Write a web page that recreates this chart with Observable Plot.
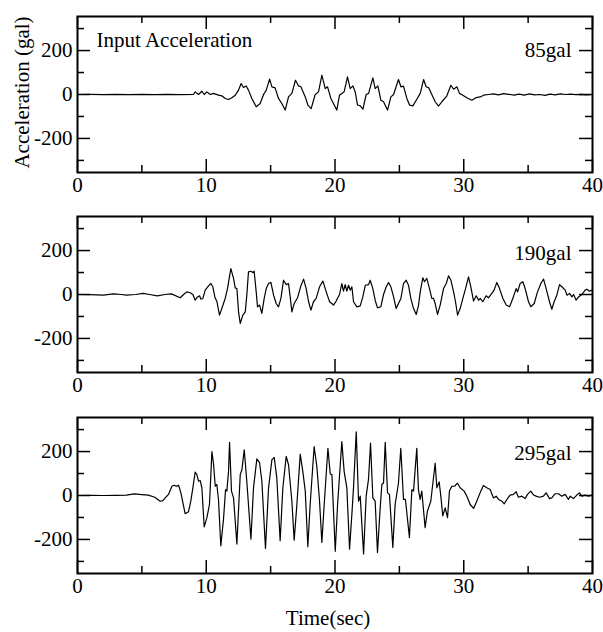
<!DOCTYPE html>
<html><head><meta charset="utf-8">
<script src="https://cdn.jsdelivr.net/npm/d3@7"></script>
<script src="https://cdn.jsdelivr.net/npm/@observablehq/plot@0.6"></script>
<style>
body{margin:0;background:#fff;}
#chart{position:relative;width:603px;height:632px;background:#fff;}
#chart svg{display:block;}
</style></head><body><div id="chart"></div>
<script>
const xMajor = [0, 10, 20, 30, 40];
const xMinor = [5, 15, 25, 35];
const yMajor = [-200, 0, 200];
const yMinor = [-300, -100, 100, 300];
const panelLabels = ["85gal", "190gal", "295gal"];
const titleText = "Input Acceleration";
const yAxisLabel = "Acceleration (gal)";
const xAxisLabel = "Time(sec)";

// [time (sec), acceleration (gal)]
const wave85 = [[0,0],[1,0.5],[2,-0.5],[3,1],[4,-1],[5,0.5],[6,-1],[7,1],[8,-0.5],[9,0],
[9.14,12],[9.4,0],[9.66,15],[9.84,0],[10.05,12],[10.31,0],[10.56,5],[10.95,-3],[11.21,-6],[11.47,-18],[11.73,-23],[11.99,-15],[12.25,-3],[12.51,20],[12.71,50],[12.89,32],[13.1,39],[13.28,20],[13.54,-18],[13.88,-56],[14.19,-41],[14.45,0],[14.66,20],[14.92,70],[15.1,35],[15.35,30],[15.61,-18],[15.87,-41],[16.13,-71],[16.39,-11],[16.65,5],[16.93,65],[17.17,39],[17.35,35],[17.69,-11],[17.89,-48],[18.15,-64],[18.46,0],[18.72,12],[18.98,88],[19.24,27],[19.42,35],[19.68,-18],[19.94,-48],[20.14,-71],[20.35,-3],
[20.53,5],[20.71,12],[20.97,80],[21.18,27],[21.39,39],[21.57,12],[21.75,-48],[21.96,-52],[22.17,-67],[22.42,0],[22.61,5],[22.94,76],[23.12,27],[23.33,39],[23.56,-26],[23.77,-33],[24.08,-71],[24.34,-11],[24.55,0],[24.93,68],[25.12,35],[25.32,38],[25.58,-18],[25.79,-48],[26.05,-52],[26.31,-26],[26.62,5],[26.88,68],[27.08,35],[27.29,30],[27.52,0],[27.78,-33],[28.04,-53],[28.3,-33],[28.69,-6],[29.0,42],[29.21,24],[29.47,35],[29.67,5],[29.93,-3],[30.24,-15],[30.63,-26],[30.97,-14],[31.28,-11],[31.54,-3],[31.92,0],
[32.3,3],[32.7,-2],[33.1,4],[33.5,1],[33.9,-3],[34.3,2],[34.7,-3],[35.1,3],[35.5,-2],[35.9,0],[36.3,-4],[36.7,2],[37.1,-2],[37.5,3],[37.9,0],[38.3,2],[38.7,-1],[39.1,1],[39.5,-2],[40,0]];

const wave190 = [[0,0],[1,-1],[2,-3],[2.8,3],[3.4,0],[3.8,-3],[4.5,0],[5.1,5],[5.6,0],[6.2,-6],[6.8,0],[7.3,3],[7.98,-15],
[8.24,0],[8.49,12],[8.75,8],[8.96,0],[9.14,-26],[9.32,-11],[9.48,-6],[9.58,-21],[9.74,-18],[9.92,20],[10.18,39],[10.36,50],[10.51,35],[10.67,-11],[10.83,-33],[11.03,-94],[11.21,-64],[11.47,-18],[11.65,27],[11.91,118],[12.12,73],[12.25,30],[12.38,27],[12.51,-79],[12.64,-132],[12.84,-94],[13.03,-79],[13.15,-3],[13.28,103],[13.47,106],[13.62,100],[13.72,106],[13.88,12],[13.98,-56],[14.14,-48],[14.32,-86],[14.5,-18],[14.66,27],[14.84,50],[15.02,55],[15.23,-3],[15.43,-41],[15.61,-56],[15.8,-18],[16.0,65],[16.21,45],[16.39,50],[16.52,-11],[16.65,-79],[16.83,-41],[17.09,-15],[17.35,39],[17.56,70],[17.76,27],[17.95,-33],[18.13,-71],[18.33,-33],[18.54,-18],[18.8,35],[19.06,61],[19.32,12],[19.58,-33],[19.89,-48],[20.09,-30],[20.35,0],[20.53,50],[20.66,15],[20.79,45],[20.92,15],[21.05,42],[21.18,20],[21.31,35],[21.44,-33],[21.7,-56],[21.96,-52],[22.16,-11],[22.35,42],[22.61,45],[22.73,65],[22.94,27],[23.12,-26],[23.3,-61],[23.56,-56],[23.77,0],
[23.98,35],[24.16,55],[24.34,35],[24.55,-11],[24.75,-64],[24.93,-41],[25.12,-18],[25.32,50],[25.53,65],[25.71,42],[25.89,-18],[26.1,-64],[26.31,-91],[26.49,-48],[26.62,12],[26.82,76],[26.95,58],[27.13,73],[27.34,27],[27.52,-18],[27.65,-18],[27.78,-41],[27.96,-91],[28.17,-48],[28.43,27],[28.64,50],[28.82,85],[29.0,65],[29.21,12],[29.36,-33],[29.52,-94],[29.72,-64],[29.93,-18],[30.14,27],[30.37,80],[30.55,35],[30.76,-30],[30.97,-6],[31.15,-26],[31.28,-18],[31.48,-33],[31.74,-6],[31.92,-15],[32.18,5],[32.36,20],[32.57,55],[32.78,27],[33.04,-18],[33.3,-48],[33.56,-56],[33.81,-18],[34.07,27],[34.18,12],[34.38,50],[34.59,58],[34.77,27],[35.03,-33],[35.21,-56],[35.47,-41],[35.73,12],[35.99,50],[36.2,70],[36.4,27],[36.66,-33],[36.84,-67],[37.02,-33],[37.23,-3],[37.44,45],[37.62,35],[37.88,20],[38.01,-3],[38.22,5],[38.4,-11],[38.53,0],[38.73,-26],[38.91,-11],[39.17,0],[39.43,20],[39.56,24],[39.77,15],[39.95,20]];

const wave295 = [[0,0],[1,1],[2,0],[3,1],[3.8,2],[4.4,7],[5,4],[5.5,2],[6,-8],[6.42,-26],
[6.63,-23],[6.81,-11],[7.07,5],[7.33,42],[7.51,47],[7.67,42],[7.85,47],[8.03,12],[8.24,-48],[8.36,-83],[8.62,-74],[8.8,-26],[8.96,35],[9.14,107],[9.27,95],[9.4,65],[9.53,68],[9.66,35],[9.84,-143],[10.05,-101],[10.25,-41],[10.44,200],[10.57,140],[10.7,42],[10.82,50],[10.95,-18],[11.13,-229],[11.34,-108],[11.5,27],[11.6,20],[11.73,110],[11.81,242],[11.96,20],[12.12,-11],[12.38,-221],[12.64,95],[12.77,117],[12.95,208],[13.15,65],[13.47,-199],[13.67,35],[13.93,167],[14.14,150],[14.32,65],[14.6,-241],[14.84,35],[15.1,163],[15.28,173],[15.48,80],[15.74,-206],[15.95,35],[16.21,178],[16.39,140],[16.65,-26],[16.83,-203],[17.04,-41],[17.3,188],[17.5,110],[17.69,20],[17.89,-233],[18.07,-41],[18.38,223],[18.59,132],[18.8,-26],[18.98,-214],[19.16,-41],[19.45,215],[19.63,98],[19.76,95],[20.02,-254],[20.2,-41],[20.53,245],[20.71,110],[20.92,35],[21.13,-244],[21.31,-86],[21.44,38],[21.65,290],[21.83,-26],[21.96,-3],[22.22,-266],[22.42,-3],[22.6,72],[22.76,238],
[22.94,-11],[23.12,-26],[23.3,-259],[23.51,-56],[23.64,50],[23.77,57],[23.9,242],[24.08,12],[24.23,5],[24.49,-236],[24.67,-41],[24.93,57],[25.11,215],[25.32,-18],[25.47,-18],[25.78,-191],[25.97,27],[26.1,20],[26.35,215],[26.48,27],[26.61,-18],[26.74,20],[27.0,-146],[27.18,-71],[27.44,-26],[27.78,147],[27.91,35],[28.09,62],[28.22,-3],[28.37,-93],[28.56,-56],[28.74,-101],[28.89,20],[29.07,42],[29.28,42],[29.51,56],[29.72,35],[30.03,20],[30.24,-3],[30.5,-41],[30.76,-59],[30.96,-33],[31.27,12],[31.53,45],[31.79,35],[32.05,27],[32.31,-11],[32.52,-3],[32.7,-18],[32.96,-26],[33.14,-38],[33.35,-18],[33.6,2],[33.86,5],[34.07,17],[34.25,-8],[34.51,-3],[34.77,-14],[34.95,5],[35.21,20],[35.42,2],[35.62,-3],[35.88,-8],[36.19,-3],[36.4,12],[36.66,-14],[36.84,-11],[37.1,8],[37.36,8],[37.62,-3],[37.88,5],[38.13,-18],[38.26,-3],[38.52,-14],[38.78,2],[38.99,12],[39.17,-3],[39.43,2],[39.69,-3],[39.95,2]];

const FONT = "'Liberation Serif', 'Times New Roman', serif";
const W = 515, H = 156, MAJ = 13, MIN = 7;

function panel(data, label, labelDy, opts) {
  const marks = [
    Plot.line(data, {x: d => d[0], y: d => d[1], stroke: "black", strokeWidth: 1.2}),
    // inward ticks
    Plot.ruleX(xMajor, {x: d => d, insetTop: H - MAJ, stroke: "black", strokeWidth: 1.5}),
    Plot.ruleX(xMajor, {x: d => d, insetBottom: H - MAJ, stroke: "black", strokeWidth: 1.5}),
    Plot.ruleX(xMinor, {x: d => d, insetTop: H - MIN, stroke: "black", strokeWidth: 1.5}),
    Plot.ruleX(xMinor, {x: d => d, insetBottom: H - MIN, stroke: "black", strokeWidth: 1.5}),
    Plot.ruleY(yMajor, {y: d => d, insetRight: W - MAJ, stroke: "black", strokeWidth: 1.5}),
    Plot.ruleY(yMajor, {y: d => d, insetLeft: W - MAJ, stroke: "black", strokeWidth: 1.5}),
    Plot.ruleY(yMinor, {y: d => d, insetRight: W - MIN, stroke: "black", strokeWidth: 1.5}),
    Plot.ruleY(yMinor, {y: d => d, insetLeft: W - MIN, stroke: "black", strokeWidth: 1.5}),
    Plot.axisX({ticks: xMajor, tickSize: 0, tickPadding: 5, label: null, tickFormat: d => String(d)}),
    Plot.axisY({ticks: yMajor, tickSize: 0, tickPadding: 5, label: null, tickFormat: d => String(d)}),
    Plot.frame({stroke: "black", strokeWidth: 2}),
    Plot.text([label], {text: d => d, frameAnchor: "top-right", dx: -21, dy: labelDy, textAnchor: "end", lineAnchor: "middle", fill: "black"})
  ];
  if (opts.title) marks.push(Plot.text([opts.title], {text: d => d, frameAnchor: "top-left", dx: 19, dy: 24, textAnchor: "start", lineAnchor: "middle", fill: "black"}));
  if (opts.yLabel) marks.push(Plot.text([opts.yLabel], {text: d => d, frameAnchor: "left", dx: -55, dy: -2, rotate: -90, textAnchor: "middle", lineAnchor: "middle", fill: "black"}));
  if (opts.xLabel) marks.push(Plot.text([opts.xLabel], {text: d => d, frameAnchor: "bottom", dx: -7, dy: 45, textAnchor: "middle", lineAnchor: "middle", fill: "black"}));
  return Plot.plot({
    width: 603,
    height: opts.marginTop + H + opts.marginBottom,
    marginLeft: 77,
    marginRight: 11,
    marginTop: opts.marginTop,
    marginBottom: opts.marginBottom,
    x: {domain: [0, 40]},
    y: {domain: [-355, 355]},
    style: {fontFamily: FONT, fontSize: "21px", color: "black", background: "white", overflow: "visible"},
    marks
  });
}

const root = document.getElementById("chart");
root.append(panel(wave85, panelLabels[0], 34, {marginTop: 16, marginBottom: 28, title: titleText, yLabel: yAxisLabel}));
root.append(panel(wave190, panelLabels[1], 37, {marginTop: 16, marginBottom: 28}));
root.append(panel(wave295, panelLabels[2], 36, {marginTop: 17, marginBottom: 59, xLabel: xAxisLabel}));
</script></body></html>
